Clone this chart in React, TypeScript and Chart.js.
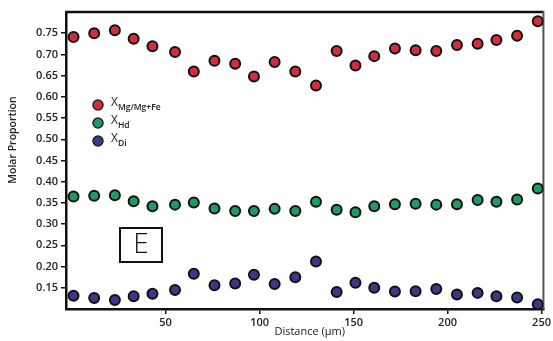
import React, { useEffect, useRef } from "react";
import { Chart, registerables } from "chart.js";

Chart.register(...registerables);

const distances = [1, 12, 23, 33, 43, 55, 65, 76, 87, 97, 108, 119, 130, 141, 151, 161, 172, 183, 194, 205, 216, 226, 237, 248];
const xMgValues = [0.741, 0.750, 0.757, 0.737, 0.719, 0.706, 0.660, 0.685, 0.678, 0.648, 0.682, 0.660, 0.627, 0.708, 0.674, 0.696, 0.714, 0.710, 0.708, 0.722, 0.725, 0.734, 0.744, 0.778];
const xHdValues = [0.365, 0.367, 0.368, 0.354, 0.342, 0.346, 0.351, 0.337, 0.331, 0.331, 0.336, 0.331, 0.353, 0.334, 0.328, 0.342, 0.347, 0.348, 0.346, 0.347, 0.357, 0.353, 0.358, 0.384];
const xDiValues = [0.131, 0.126, 0.121, 0.130, 0.136, 0.145, 0.183, 0.156, 0.160, 0.181, 0.159, 0.175, 0.212, 0.140, 0.162, 0.150, 0.141, 0.142, 0.147, 0.134, 0.138, 0.130, 0.127, 0.111];
const xTickValues = [50, 100, 150, 200, 250];
const yTickValues = [0.15, 0.2, 0.25, 0.3, 0.35, 0.4, 0.45, 0.5, 0.55, 0.6, 0.65, 0.7, 0.75];

const seriesNames = ["Mg/Mg+Fe", "Hd", "Di"];
const seriesColors = ["#cf2f3b", "#1f9a62", "#3a3986"];
const panelLabel = "E";
const xTitle = "Distance (\u03bcm)";
const yTitle = "Molar Proportion";

const FONT = "'Open Sans', 'Noto Sans', sans-serif";

const decorPlugin = {
  id: "decor",
  beforeDatasetsDraw(chart: any) {
    const { ctx, chartArea } = chart;
    const { left, top, right, bottom } = chartArea;
    ctx.save();
    // top border
    ctx.strokeStyle = "#111";
    ctx.lineWidth = 2.5;
    ctx.beginPath();
    ctx.moveTo(left - 1, top);
    ctx.lineTo(right, top);
    ctx.stroke();
    // right border
    ctx.strokeStyle = "#555";
    ctx.lineWidth = 2;
    ctx.beginPath();
    ctx.moveTo(right, top - 1);
    ctx.lineTo(right, bottom);
    ctx.stroke();
    ctx.restore();
  },
  afterDraw(chart: any) {
    const { ctx, chartArea } = chart;
    const { left, top, right, bottom } = chartArea;
    ctx.save();
    // legend
    const lx = left + 32;
    const ly0 = top + 93;
    seriesNames.forEach((name, i) => {
      const cy = ly0 + i * 18;
      ctx.beginPath();
      ctx.arc(lx, cy, 5, 0, Math.PI * 2);
      ctx.fillStyle = seriesColors[i];
      ctx.fill();
      ctx.lineWidth = 1.5;
      ctx.strokeStyle = "#222";
      ctx.stroke();
      ctx.fillStyle = "#222";
      ctx.textBaseline = "middle";
      ctx.textAlign = "left";
      ctx.font = `12px ${FONT}`;
      ctx.fillText("X", lx + 13, cy - 2);
      const w = ctx.measureText("X").width;
      ctx.font = `600 8.5px ${FONT}`;
      ctx.fillText(name, lx + 13 + w, cy + 3);
    });
    // panel label box
    const bx = left + 54;
    const by = top + 216;
    ctx.lineWidth = 2;
    ctx.strokeStyle = "#111";
    ctx.strokeRect(bx, by, 42, 34);
    ctx.fillStyle = "#111";
    ctx.textAlign = "center";
    ctx.textBaseline = "middle";
    ctx.font = `300 28px ${FONT}`;
    ctx.fillText(panelLabel, bx + 21, by + 17);
    // y title
    ctx.save();
    ctx.translate(13, top + 128);
    ctx.rotate(-Math.PI / 2);
    ctx.font = `600 10.5px ${FONT}`;
    ctx.fillStyle = "#222";
    ctx.textAlign = "center";
    ctx.textBaseline = "middle";
    ctx.fillText(yTitle, 0, 0);
    ctx.restore();
    // x title
    ctx.font = `11px ${FONT}`;
    ctx.fillStyle = "#222";
    ctx.textAlign = "center";
    ctx.textBaseline = "middle";
    ctx.fillText(xTitle, (left + right) / 2 + 5, bottom + 23);
    ctx.restore();
  },
};

export default function App() {
  const canvasRef = useRef<HTMLCanvasElement | null>(null);

  useEffect(() => {
    if (!canvasRef.current) return;
    const mk = (vals: number[], i: number) => ({
      label: "X" + seriesNames[i],
      data: distances.map((d, k) => ({ x: d, y: vals[k] })),
      backgroundColor: seriesColors[i],
      borderColor: "#111",
      borderWidth: 2,
      pointRadius: 5,
      showLine: false,
    });
    const chart = new Chart(canvasRef.current, {
      type: "scatter",
      data: {
        datasets: [mk(xMgValues, 0), mk(xHdValues, 1), mk(xDiValues, 2)],
      },
      options: {
        animation: false,
        responsive: false,
        maintainAspectRatio: false,
        layout: { padding: { top: 12, right: 4, left: 0, bottom: 0 } },
        plugins: { legend: { display: false }, tooltip: { enabled: false } },
        scales: {
          x: {
            type: "linear",
            min: -3,
            max: 251,
            afterBuildTicks: (scale: any) => {
              scale.ticks = xTickValues.map((v) => ({ value: v }));
            },
            afterFit: (scale: any) => {
              scale.height = 32;
            },
            grid: { drawOnChartArea: false, drawTicks: true, tickLength: 5, color: "#111", lineWidth: 1.5 },
            border: { display: true, color: "#111", width: 2.5 },
            ticks: {
              font: { family: FONT, size: 11, weight: "600" },
              color: "#222",
              padding: 2,
              maxRotation: 0,
              callback: (v: any) => String(v),
            },
          },
          y: {
            type: "linear",
            min: 0.1,
            max: 0.8,
            afterBuildTicks: (scale: any) => {
              scale.ticks = yTickValues.map((v) => ({ value: v }));
            },
            afterFit: (scale: any) => {
              scale.width = 66;
            },
            grid: { drawOnChartArea: false, drawTicks: true, tickLength: 5, color: "#111", lineWidth: 1.5 },
            border: { display: true, color: "#111", width: 2.5 },
            ticks: {
              font: { family: FONT, size: 11, weight: "600" },
              color: "#222",
              padding: 3,
              callback: (v: any) => Number(v).toFixed(2),
            },
          },
        },
      },
      plugins: [decorPlugin],
    } as any);
    return () => chart.destroy();
  }, []);

  return (
    <div style={{ position: "fixed", left: 0, top: 0, width: 553, height: 341, background: "#fff" }}>
      <canvas ref={canvasRef} width={553} height={341} style={{ width: 553, height: 341, display: "block" }} />
    </div>
  );
}
